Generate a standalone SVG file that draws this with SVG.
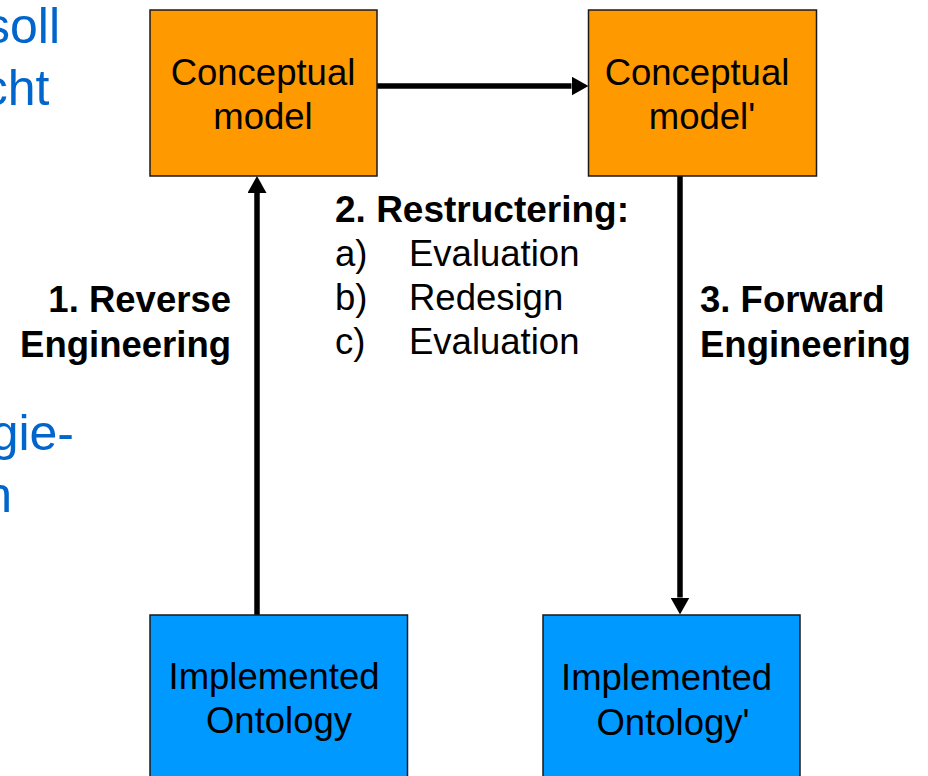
<svg xmlns="http://www.w3.org/2000/svg" width="928" height="776" viewBox="0 0 928 776">
<style>
  text { font-family: "Liberation Sans", Arial, sans-serif; font-size: 36.5px; fill: #000; }
  .c { text-anchor: middle; }
  .b { font-weight: bold; }
  .r { text-anchor: end; }
  .blue { fill: #0066cc; font-size: 50px; text-anchor: end; }
  .orange { fill: #ff9900; stroke: #1a1a1a; stroke-width: 1.5; }
  .azure { fill: #0099ff; stroke: #1a1a1a; stroke-width: 1.5; }
  .conn { stroke: #000; stroke-width: 5.5; fill: none; marker-end: url(#ah); }
</style>
<defs>
  <marker id="ah" markerUnits="userSpaceOnUse" markerWidth="17" markerHeight="19" refX="0" refY="9.5" orient="auto">
    <path d="M0,0 L17,9.5 L0,19 z" fill="#000"/>
  </marker>
</defs>
<rect width="928" height="776" fill="#fff"/>

<g id="background-text">
  <text class="blue" x="60" y="43">soll</text>
  <text class="blue" x="49.5" y="105">cht</text>
  <text class="blue" x="74" y="450">gie-</text>
  <text class="blue" x="12" y="512">n</text>
</g>

<g id="connectors">
  <line class="conn" x1="377" y1="86" x2="571.5" y2="86"/>
  <line class="conn" x1="257" y1="615" x2="257" y2="193"/>
  <line class="conn" x1="680" y1="176" x2="680" y2="597.5"/>
</g>

<g id="conceptual-model">
  <rect class="orange" x="150" y="10" width="227" height="166"/>
  <text class="c" x="263" y="85">Conceptual</text>
  <text class="c" x="263" y="129">model</text>
</g>

<g id="conceptual-model-prime">
  <rect class="orange" x="588.5" y="10" width="228" height="166"/>
  <text class="c" x="697" y="85">Conceptual</text>
  <text class="c" x="702" y="129">model'</text>
</g>

<g id="implemented-ontology">
  <rect class="azure" x="150" y="615" width="257.5" height="175"/>
  <text class="c" x="274" y="689">Implemented</text>
  <text class="c" x="279" y="733">Ontology</text>
</g>

<g id="implemented-ontology-prime">
  <rect class="azure" x="543" y="615" width="257" height="175"/>
  <text class="c" x="666.5" y="690">Implemented</text>
  <text class="c" x="673" y="735">Ontology'</text>
</g>

<g id="label-reverse">
  <text class="b r" x="231" y="312">1. Reverse</text>
  <text class="b r" x="231" y="357">Engineering</text>
</g>

<g id="label-restructering">
  <text class="b" x="335" y="222" style="font-size:37px">2. Restructering:</text>
  <text x="335" y="266">a)</text>
  <text x="409" y="266">Evaluation</text>
  <text x="335" y="310">b)</text>
  <text x="409" y="310">Redesign</text>
  <text x="335" y="354">c)</text>
  <text x="409" y="354">Evaluation</text>
</g>

<g id="label-forward">
  <text class="b" x="700" y="312">3. Forward</text>
  <text class="b" x="700" y="357">Engineering</text>
</g>
</svg>
